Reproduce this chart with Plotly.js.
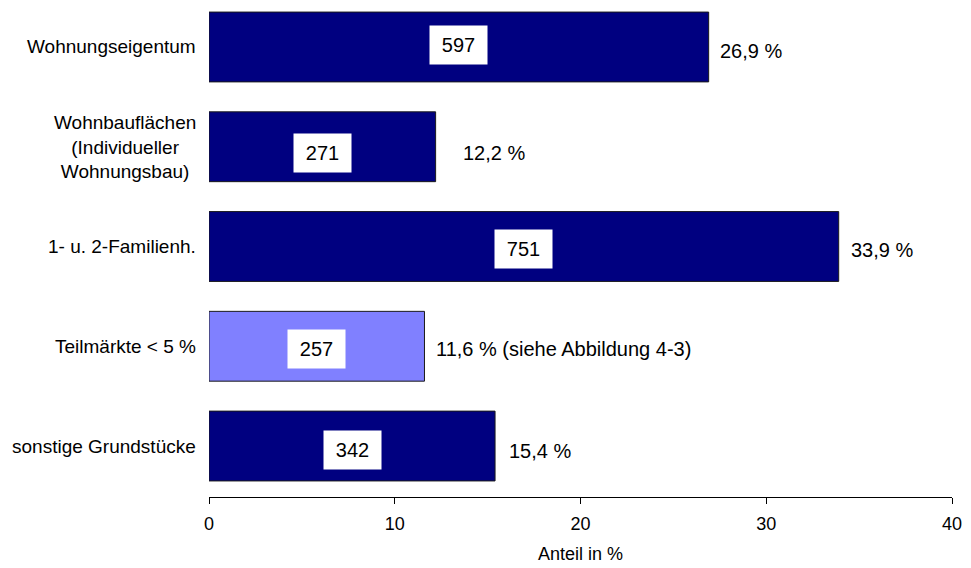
<!DOCTYPE html>
<html><head><meta charset="utf-8">
<script src="https://cdn.plot.ly/plotly-3.0.1.min.js"></script>
<style>html,body{margin:0;padding:0;background:#fff;}</style>
</head><body>
<div id="chart" style="width:971px;height:568px;"></div>
<script>
const categories = ["Wohnungseigentum", "Wohnbauflächen<br>(Individueller<br>Wohnungsbau)", "1- u. 2-Familienh.", "Teilmärkte < 5 %", "sonstige Grundstücke"];
const shares = [26.9, 12.2, 33.9, 11.6, 15.4];
const counts = [597, 271, 751, 257, 342];
const shareLabels = ["26,9 %", "12,2 %", "33,9 %", "11,6 % (siehe Abbildung 4-3)", "15,4 %"];
const xTicks = [0, 10, 20, 30, 40];

// styling
const barColors = ["#000080", "#000080", "#000080", "#8080FF", "#000080"];
const labelXShift = [9, 25, 10, 10, 12];
const labelYShift = [-4, -6, -3, -3, -5];
const boxYShift = [2, -6, -2, -3, -4];
const FAMILY = "Liberation Sans, Arial, sans-serif";
const catFont = {family: FAMILY, size: 19, color: "#000"};
const numFont = {family: FAMILY, size: 20, color: "#000"};
const axisFont = {family: FAMILY, size: 18, color: "#000"};

const ids = categories.map((c, i) => i);

const trace = {
  type: "bar",
  orientation: "h",
  x: shares,
  y: ids,
  width: 0.7,
  marker: {color: barColors, line: {color: "#1a1a1a", width: 1}},
  hoverinfo: "skip"
};

const annotations = [];
categories.forEach((c, i) => {
  annotations.push({
    xref: "paper", yref: "y", x: 0, y: i, xanchor: "right", yanchor: "middle",
    xshift: -11, text: c, showarrow: false, align: "center", font: catFont
  });
  annotations.push({
    xref: "x", yref: "y", x: shares[i] / 2, y: i, xanchor: "center", yanchor: "middle",
    yshift: boxYShift[i], text: String(counts[i]), showarrow: false,
    bgcolor: "#ffffff", width: 57, height: 38, borderpad: 0, font: numFont
  });
  annotations.push({
    xref: "x", yref: "y", x: shares[i], y: i, xanchor: "left", yanchor: "middle",
    xshift: labelXShift[i], yshift: labelYShift[i], text: shareLabels[i], showarrow: false, font: numFont
  });
});

const layout = {
  width: 971, height: 568,
  margin: {l: 209, r: 19, t: 0, b: 71},
  paper_bgcolor: "#fff", plot_bgcolor: "#fff",
  font: axisFont,
  showlegend: false,
  xaxis: {
    range: [0, 40], tickvals: xTicks, ticktext: xTicks.map(String),
    showgrid: false, zeroline: false, showline: true, linecolor: "#000", linewidth: 1,
    ticks: "outside", ticklen: 6, tickcolor: "#000", tickwidth: 1,
    ticklabelstandoff: 4,
    tickfont: axisFont,
    title: {text: "Anteil in %", font: {family: FAMILY, size: 18, color: "#000"}, standoff: 14}
  },
  yaxis: {
    range: [4.511, -0.471], showticklabels: false, showgrid: false, zeroline: false,
    showline: false, ticks: ""
  },
  annotations: annotations
};

Plotly.newPlot("chart", [trace], layout, {displayModeBar: false, staticPlot: true});
</script>
</body></html>
